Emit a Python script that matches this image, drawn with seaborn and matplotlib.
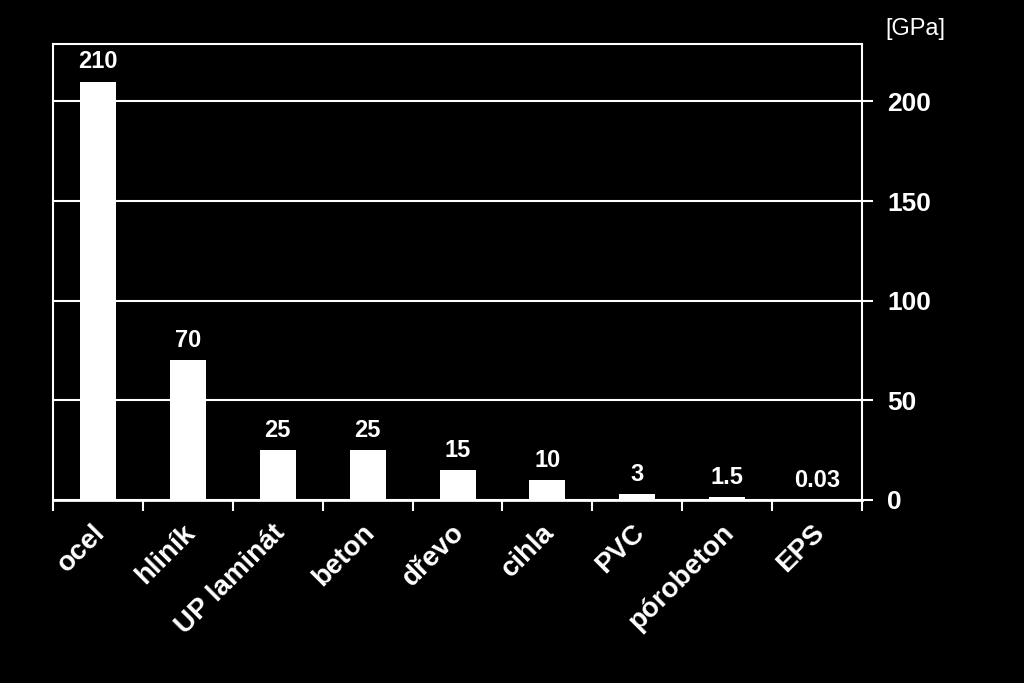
import pandas as pd
import seaborn as sns
import matplotlib.pyplot as plt
from matplotlib.transforms import ScaledTranslation

# data
materials = ["ocel", "hliník", "UP laminát", "beton", "dřevo", "cihla", "PVC", "pórobeton", "EPS"]
modulus = [210, 70, 25, 25, 15, 10, 3, 1.5, 0.03]
value_labels = ["210", "70", "25", "25", "15", "10", "3", "1.5", "0.03"]
y_ticks = [0, 50, 100, 150, 200]

df = pd.DataFrame({"material": materials, "E": modulus})

sns.set_style("dark", {
    "axes.facecolor": "black",
    "figure.facecolor": "black",
    "axes.edgecolor": "white",
    "grid.color": "white",
    "text.color": "white",
    "xtick.color": "white",
    "ytick.color": "white",
})
plt.rcParams["font.family"] = ["Liberation Sans", "DejaVu Sans"]

fig = plt.figure(figsize=(10.24, 6.83), dpi=100)
ax = fig.add_axes([0.0518, 0.268, 0.790, 0.668])

sns.barplot(data=df, x="material", y="E", color="white", width=0.4,
            saturation=1, edgecolor="white", linewidth=0, ax=ax, zorder=3)

ax.set_ylim(0, 229)
ax.set_xlim(-0.5, len(materials) - 0.5)
ax.set_yticks(y_ticks)
ax.yaxis.tick_right()
ax.tick_params(axis="y", which="major", right=True, left=False, direction="out",
               length=8, width=1.5, pad=10, labelsize=19, colors="white")
for lab in ax.get_yticklabels():
    lab.set_fontweight("bold")

ax.yaxis.grid(True, color="white", linewidth=1.5, zorder=0)
ax.xaxis.grid(False)
ax.set_axisbelow(True)

# x ticks at category boundaries
ax.set_xticks(range(len(materials)))
ax.set_xticks([i - 0.5 for i in range(len(materials) + 1)], minor=True)
ax.tick_params(axis="x", which="minor", bottom=True, direction="out",
               length=8, width=1.5, colors="white")
ax.tick_params(axis="x", which="major", bottom=False, length=0, pad=14)
ax.set_xticklabels(materials, rotation=45, ha="right", va="top",
                   rotation_mode="anchor", fontsize=20, fontweight="bold")
shift = ScaledTranslation(-6 / 100, 0, fig.dpi_scale_trans)
for lab in ax.get_xticklabels():
    lab.set_transform(lab.get_transform() + shift)

ax.set_xlabel("")
ax.set_ylabel("")

for side in ["left", "top", "right"]:
    ax.spines[side].set_color("white")
    ax.spines[side].set_linewidth(1.5)
ax.spines["bottom"].set_color("white")
ax.spines["bottom"].set_linewidth(2)

for i, (v, t) in enumerate(zip(modulus, value_labels)):
    ax.annotate(t, (i, v), xytext=(0, 6), textcoords="offset points",
                ha="center", va="bottom", fontsize=17, fontweight="bold", color="white")

fig.text(0.894, 0.958, "[GPa]", ha="center", va="center", fontsize=17, color="white")

fig.savefig("out.png", dpi=100, facecolor="black")
